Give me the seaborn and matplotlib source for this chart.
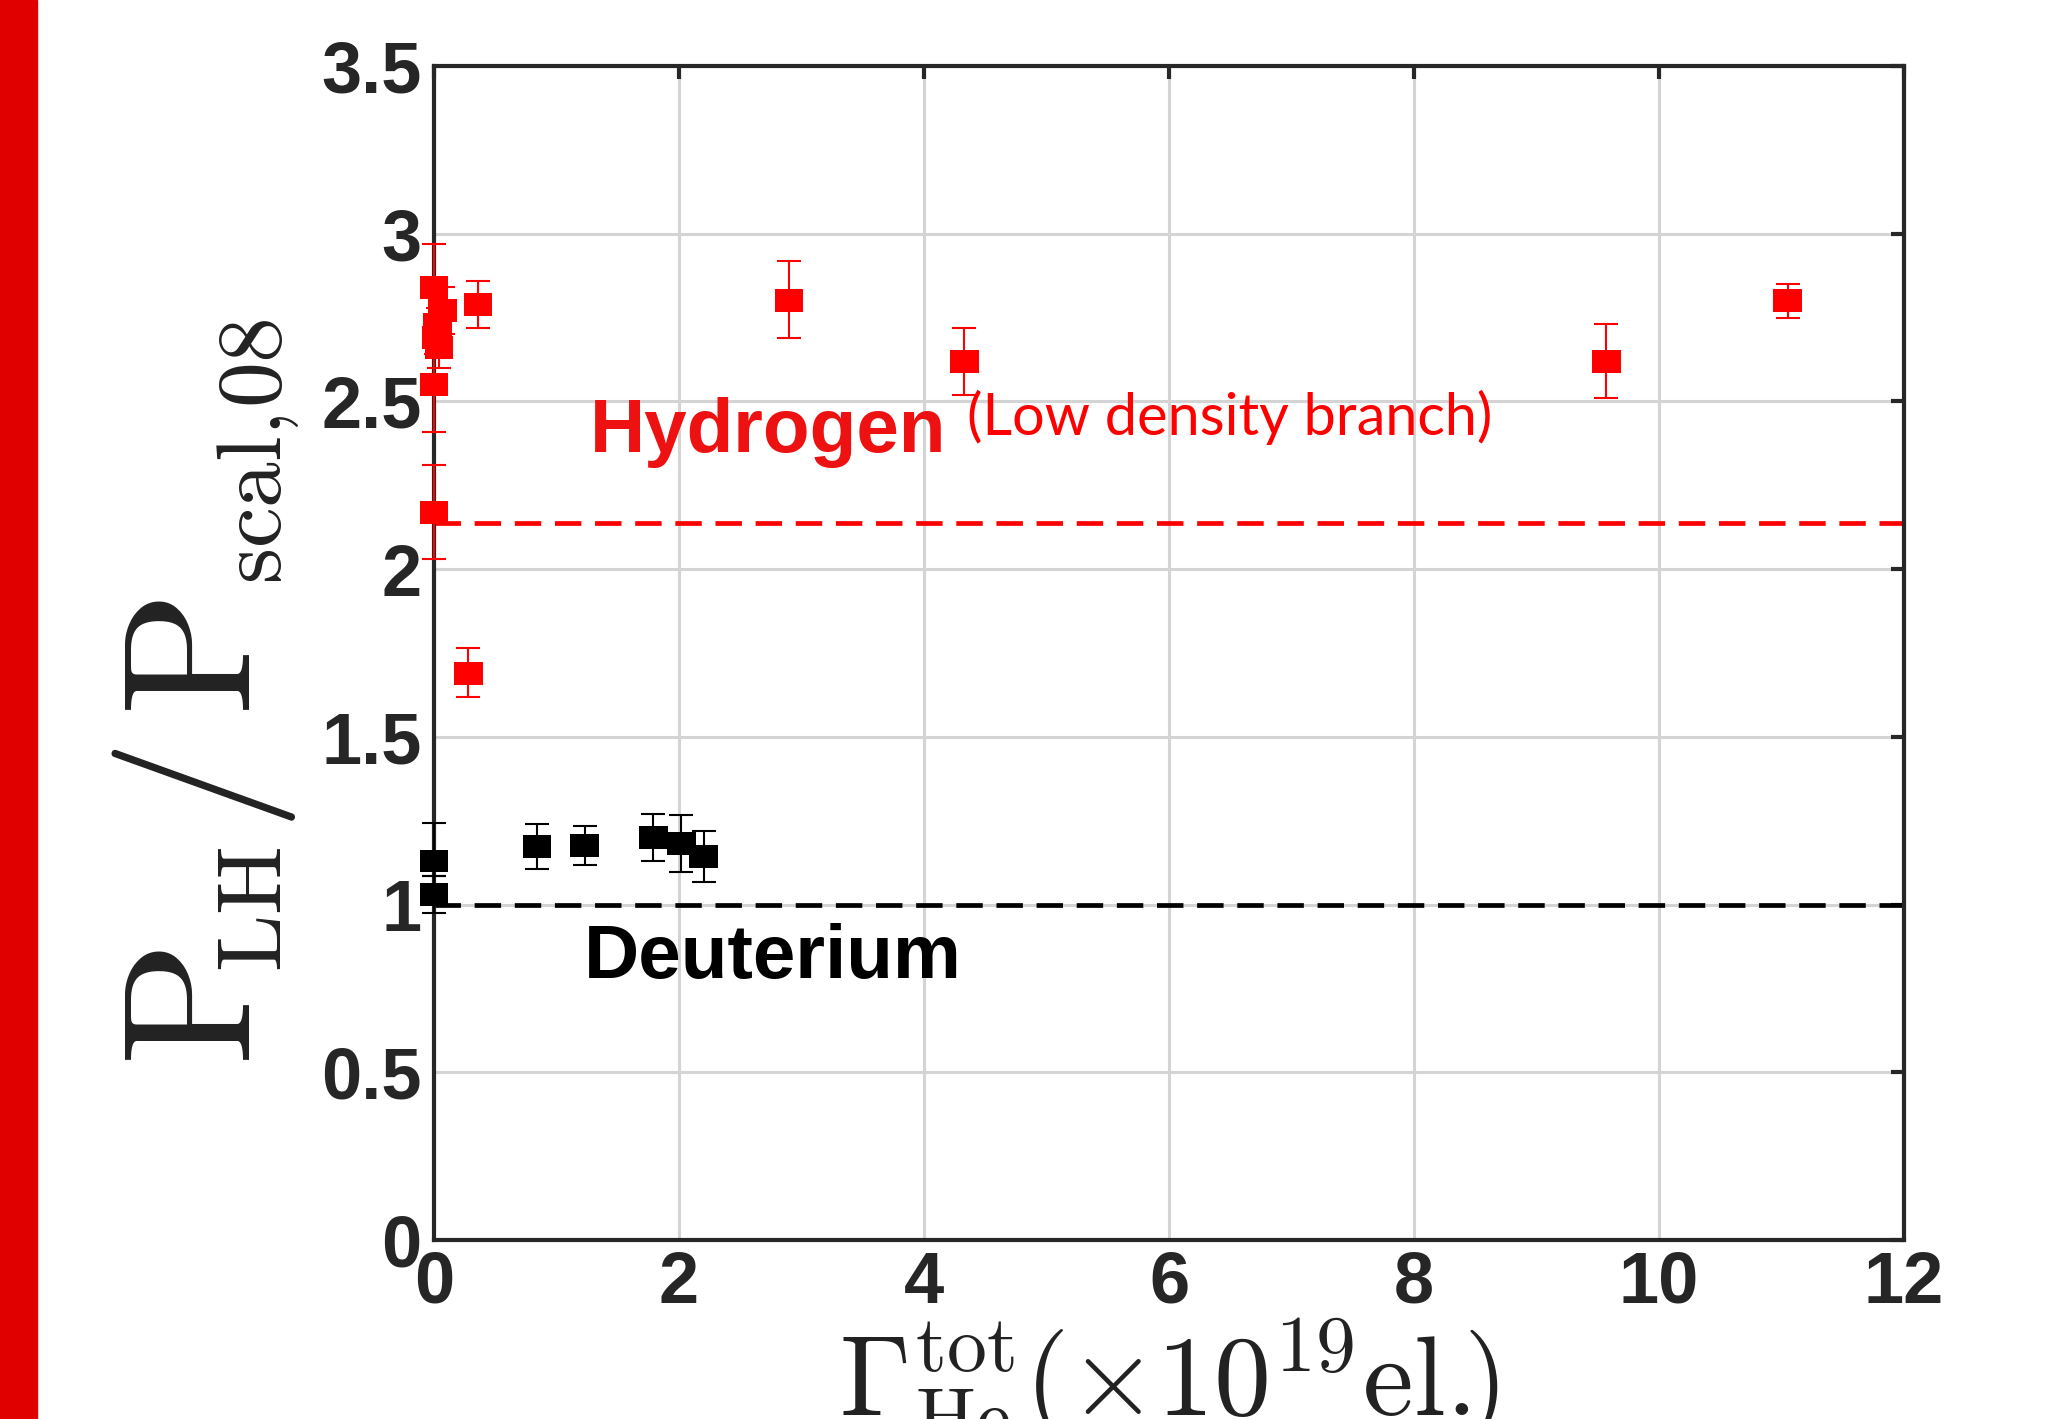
import numpy as np
import pandas as pd
import matplotlib
matplotlib.use("Agg")
import matplotlib.pyplot as plt
from matplotlib.patches import Rectangle
import seaborn as sns

# ---------------- data ----------------
h_x = [0.00, 0.07, 0.36, 0.03, 0.02, 0.04, 0.00, 0.00, 0.28, 2.90, 4.33, 9.57, 11.05]
h_y = [2.84, 2.77, 2.79, 2.73, 2.69, 2.66, 2.55, 2.17, 1.69, 2.80, 2.62, 2.62, 2.80]
h_lo = [0.12, 0.07, 0.07, 0.05, 0.05, 0.06, 0.14, 0.14, 0.07, 0.11, 0.10, 0.11, 0.05]
h_hi = [0.13, 0.07, 0.07, 0.05, 0.05, 0.06, 0.14, 0.14, 0.075, 0.12, 0.10, 0.11, 0.05]

d_x = [0.00, 0.00, 0.84, 1.23, 1.79, 2.02, 2.20]
d_y = [1.13, 1.03, 1.174, 1.176, 1.199, 1.181, 1.144]
d_lo = [0.045, 0.055, 0.068, 0.057, 0.069, 0.085, 0.076]
d_hi = [0.113, 0.056, 0.067, 0.057, 0.070, 0.086, 0.075]

h_ref = 2.138
d_ref = 1.0

x_ticks = [0, 2, 4, 6, 8, 10, 12]
x_ticklabels = ["0", "2", "4", "6", "8", "10", "12"]
y_ticks = [0, 0.5, 1, 1.5, 2, 2.5, 3, 3.5]
y_ticklabels = ["0", "0.5", "1", "1.5", "2", "2.5", "3", "3.5"]

RED = "#ff0000"
BLACK = "#000000"

df = pd.DataFrame({
    "x": h_x + d_x,
    "y": h_y + d_y,
    "species": ["Hydrogen"] * len(h_x) + ["Deuterium"] * len(d_x),
})

# ---------------- style ----------------
sns.set_theme(style="white")
plt.rcParams["font.family"] = ["Liberation Sans", "DejaVu Sans"]
plt.rcParams["mathtext.fontset"] = "cm"

fig = plt.figure(figsize=(20.69, 14.19), dpi=100)
W, H = 2069, 1419
ax = fig.add_axes([434 / W, 1 - 1240 / H, 1470 / W, 1174 / H])

# red stripe on the left edge
fig.add_artist(Rectangle((0, 0), 37 / W, 1, transform=fig.transFigure,
                         color="#e00000", zorder=0))

ax.set_xlim(0, 12)
ax.set_ylim(0, 3.5)
ax.grid(True, color="#d4d4d4", linewidth=2.2)
ax.set_axisbelow(True)

# reference dashed lines
ax.axhline(h_ref, color=RED, linewidth=3.4, dashes=(5.6, 2.9), zorder=2)
ax.axhline(d_ref, color=BLACK, linewidth=3.4, dashes=(5.6, 2.9), zorder=2)

# error bars
ax.errorbar(h_x, h_y, yerr=[h_lo, h_hi], fmt="none", ecolor=RED,
            elinewidth=1.5, capsize=8.5, capthick=1.5, zorder=3, clip_on=False)
ax.errorbar(d_x, d_y, yerr=[d_lo, d_hi], fmt="none", ecolor=BLACK,
            elinewidth=1.5, capsize=8.5, capthick=1.5, zorder=3, clip_on=False)

rect = [(-1.25, -1.0), (1.25, -1.0), (1.25, 1.0), (-1.25, 1.0), (-1.25, -1.0)]
sns.scatterplot(data=df, x="x", y="y", hue="species",
                palette={"Hydrogen": RED, "Deuterium": BLACK},
                marker=rect, s=20.5 ** 2, linewidth=0, edgecolor="none",
                legend=False, ax=ax, zorder=4, clip_on=False)

# ticks
ax.set_xticks(x_ticks)
ax.set_xticklabels(x_ticklabels)
ax.set_yticks(y_ticks)
ax.set_yticklabels(y_ticklabels)
ax.tick_params(axis="both", direction="in", length=9.5, width=3.0,
               color="#262626", labelsize=52, labelcolor="#262626",
               top=True, right=True)
ax.tick_params(axis="x", pad=7)
ax.tick_params(axis="y", pad=9)
for lab in ax.get_xticklabels() + ax.get_yticklabels():
    lab.set_fontweight("bold")

for sp in ax.spines.values():
    sp.set_visible(True)
    sp.set_color("#262626")
    sp.set_linewidth(3.0)

# x label
ax.set_xlabel(r"$\Gamma_{\mathrm{He}}^{\mathrm{tot}}(\times10^{19}\mathrm{el.}\!\!)$",
              fontsize=82, color="#222222")
ax.xaxis.set_label_coords(0.5, -0.065)
ax.set_ylabel("")

# y label, composed of pieces (large P, small subscripts), reading upward
LAB = "#222222"
big, small = 132, 66
pieces = [
    (r"$\mathrm{P}$", big, 250, 1066),
    (r"$\mathrm{LH}$", small, 281, 972),
    (r"$/$", big, 250, 831),
    (r"$\mathrm{P}$", big, 250, 716),
    (r"$\mathrm{scal,\!08}$", small, 281, 584),
]
for txt, fs, px, py in pieces:
    fig.text(px / W, 1 - py / H, txt, fontsize=fs, color=LAB, rotation=90,
             rotation_mode="anchor", ha="left", va="baseline")

# annotations
ax.text(1.27, 2.35, "Hydrogen", color="#ee1111", fontsize=55,
        fontweight="bold", va="baseline", ha="left", zorder=5)
ax.text(4.35, 2.40, "(Low density branch)", color=RED, fontsize=41.5,
        family=["Lato", "DejaVu Sans"], va="baseline", ha="left", zorder=5)
ax.text(1.225, 0.78, "Deuterium", color=BLACK, fontsize=55,
        fontweight="bold", va="baseline", ha="left", zorder=5)

fig.savefig("out.png", dpi=100)
